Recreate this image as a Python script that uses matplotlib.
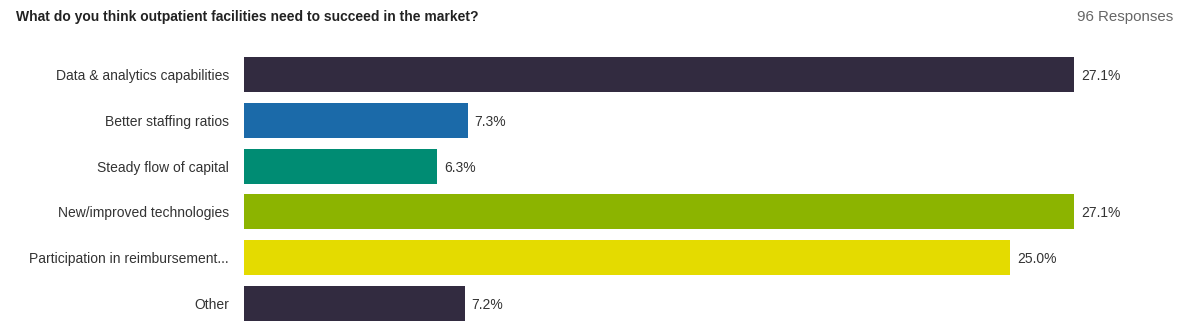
import matplotlib
matplotlib.use("Agg")
import matplotlib.pyplot as plt

categories = ["Data & analytics capabilities", "Better staffing ratios", "Steady flow of capital",
              "New/improved technologies", "Participation in reimbursement...", "Other"]
values = [27.1, 7.3, 6.3, 27.1, 25.0, 7.2]
value_labels = ["27.1%", "7.3%", "6.3%", "27.1%", "25.0%", "7.2%"]
colors = ["#322b40", "#1b6aa9", "#008c73", "#8cb400", "#e4db00", "#322b40"]
title = "What do you think outpatient facilities need to succeed in the market?"
responses = "96 Responses"

plt.rcParams['font.family'] = ['Liberation Sans', 'DejaVu Sans']

W, H = 1183, 332
fig = plt.figure(figsize=(W / 100, H / 100), dpi=100)
left_px, right_px = 244, 244 + 30 * 30.63
top_px, bot_px = 51.6, 326.2
ax = fig.add_axes([left_px / W, 1 - bot_px / H, (right_px - left_px) / W, (bot_px - top_px) / H])

y = list(range(len(categories)))
ax.barh(y, values, height=0.765, color=colors)
ax.set_xlim(0, 30)
ax.set_ylim(len(categories) - 0.5, -0.5)
for s in ax.spines.values():
    s.set_visible(False)
ax.set_xticks([])
ax.set_yticks(y)
ax.set_yticklabels(categories, fontsize=10, color="#333333")
ax.tick_params(axis='y', length=0, pad=10.8)
for yi, v, lab in zip(y, values, value_labels):
    ax.annotate(lab, (v, yi), xytext=(7, 0), textcoords='offset pixels',
                va='center_baseline', ha='left', fontsize=10, color="#333333")

fig.text(16 / W, 1 - 17 / H, title, fontsize=10, fontweight='bold', color="#222222",
         ha='left', va='center')
fig.text(1173 / W, 1 - 17 / H, responses, fontsize=10.8, color="#666666", ha='right', va='center')

fig.savefig("out.png", dpi=100, facecolor="white")
